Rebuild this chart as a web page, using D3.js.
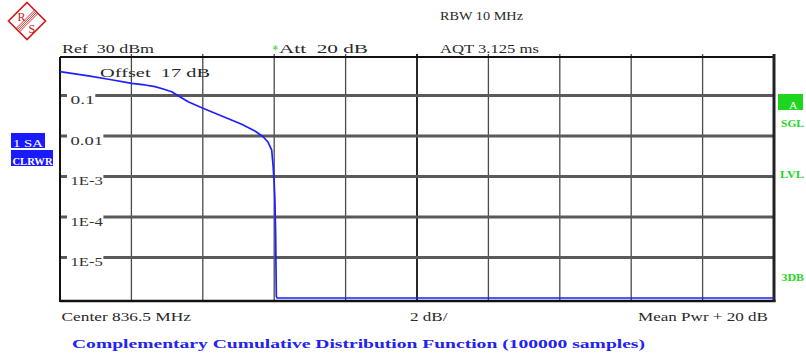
<!DOCTYPE html>
<html><head><meta charset="utf-8">
<script src="https://cdn.jsdelivr.net/npm/d3@7"></script>
<style>
body{margin:0;background:#fff}
svg{display:block}
text{font-family:"Liberation Serif","DejaVu Serif",serif;white-space:pre}
</style>
</head><body>
<script>
// ---- data ----
const levelDb = [0, 0.84, 1.4, 2.01, 2.38, 2.66, 2.89, 3.13, 3.31, 3.59, 3.97, 4.53, 5.09, 5.46, 5.69, 5.83, 5.93, 5.97, 6.00, 6.02, 6.04, 6.05, 6.06, 6.08, 20];
const ccdf    = [0.39, 0.30, 0.248, 0.200, 0.182, 0.165, 0.145, 0.124, 0.099, 0.0703, 0.050, 0.0312, 0.0195, 0.0133, 0.0096, 0.0070, 0.0045, 0.0018, 6.8e-4, 2.6e-4, 4.0e-5, 5.9e-6, 1.1e-6, 0, 0];
const yTickValues = [0.1, 0.01, 1e-3, 1e-4, 1e-5];
const yTickLabels = ["0.1", "0.01", "1E-3", "1E-4", "1E-5"];
const xDomain = [0, 20];          // dB above mean power
const xDivisions = 10;            // 2 dB/div
const yDomain = [1e-6, 1];

const W = 806, H = 353;
const svg = d3.select("body").append("svg").attr("width", W).attr("height", H);

const plot = {left: 60, right: 774, top: 57, bottom: 301};
const x = d3.scaleLinear().domain(xDomain).range([plot.left, plot.right]);
const y = d3.scaleLog().domain(yDomain).range([298, 55]);

function txt(g, xx, yy, s, w, o = {}) {
  const t = g.append("text").attr("x", xx).attr("y", yy).text(s)
    .attr("xml:space", "preserve")
    .attr("font-size", o.size || 12.5)
    .attr("fill", o.fill || "#2a2a2a");
  if (o.bold) t.attr("font-weight", "bold");
  if (w) t.attr("textLength", w).attr("lengthAdjust", "spacingAndGlyphs");
  if (o.anchor) t.attr("text-anchor", o.anchor);
  return t;
}

// ---- logo ----
const red = "#cc2020";
const logo = svg.append("g").attr("stroke", red).attr("fill", "none");
const cx = 27, cy = 21, r = 18.5;
logo.append("path").attr("stroke-width", 1.7)
  .attr("d", `M${cx},${cy - r}L${cx + r},${cy}L${cx},${cy + r}L${cx - r},${cy}Z`);
[-2.4, -0.8, 0.8, 2.4].forEach(o => {
  const d = o / Math.SQRT2;
  logo.append("line").attr("stroke-width", 0.9)
    .attr("x1", cx - r / 2 + d).attr("y1", cy + r / 2 + d)
    .attr("x2", cx + r / 2 + d).attr("y2", cy - r / 2 + d);
});
svg.append("text").attr("x", 17.5).attr("y", 20.5).text("R").attr("fill", red)
  .attr("font-size", 12).attr("font-family", "DejaVu Sans");
svg.append("text").attr("x", 28.5).attr("y", 32.5).text("S").attr("fill", red)
  .attr("font-size", 12).attr("font-family", "DejaVu Sans");

// ---- header texts ----
txt(svg, 440, 20, "RBW 10 MHz", 83);
txt(svg, 62, 53, "Ref  30 dBm", 92);
txt(svg, 272.5, 55, "*", 5.5, {fill: "#22cc22", size: 14});
txt(svg, 279, 53, "Att  20 dB", 89);
txt(svg, 440, 53, "AQT 3.125 ms", 99);

// ---- grid ----
const grid = svg.append("g");
d3.range(1, xDivisions).forEach(i => {
  const v = xDomain[0] + i * (xDomain[1] - xDomain[0]) / xDivisions;
  const center = i === xDivisions / 2;
  grid.append("line").attr("x1", x(v)).attr("x2", x(v))
    .attr("y1", plot.top - 3).attr("y2", plot.bottom)
    .attr("stroke", center ? "#111" : "#4a4a4a").attr("stroke-width", center ? 1.8 : 1.3);
});
yTickValues.forEach((v, i) => {
  const yy = y(v);
  const lab = yTickLabels[i];
  const w = lab.length * 8.1;
  grid.append("line").attr("x1", plot.left).attr("x2", 67).attr("y1", yy).attr("y2", yy)
    .attr("stroke", "#5a5a5a").attr("stroke-width", 3);
  grid.append("line").attr("x1", 70.5 + w + 0.5).attr("x2", plot.right).attr("y1", yy).attr("y2", yy)
    .attr("stroke", "#5a5a5a").attr("stroke-width", 3);
  txt(grid, 70.5, yy + 8.6, lab, w, {fill: "#333"});
});

// ---- frame ----
const fr = svg.append("g").attr("stroke", "#111");
fr.append("line").attr("x1", plot.left).attr("x2", plot.right).attr("y1", plot.top).attr("y2", plot.top).attr("stroke-width", 2);
fr.append("line").attr("x1", plot.left).attr("x2", plot.left).attr("y1", plot.top).attr("y2", plot.bottom + 1).attr("stroke-width", 2);
fr.append("line").attr("x1", plot.left).attr("x2", plot.right + 1.5).attr("y1", plot.bottom).attr("y2", plot.bottom).attr("stroke-width", 2.5);
fr.append("line").attr("x1", plot.right).attr("x2", plot.right).attr("y1", plot.top - 3).attr("y2", plot.bottom + 1).attr("stroke-width", 3).attr("stroke", "#222");

txt(svg, 100, 76.5, "Offset  17 dB", 110);

// ---- curve ----
const pts = levelDb.map((d, i) => [d, ccdf[i]]);
const line = d3.line()
  .x(d => x(d[0]))
  .y(d => y(Math.max(d[1], yDomain[0])));
svg.append("path").datum(pts).attr("d", line)
  .attr("fill", "none").attr("stroke", "#1f1fff").attr("stroke-width", 1.7)
  .attr("stroke-linejoin", "round");

// ---- side annotations ----
svg.append("rect").attr("x", 11).attr("y", 133).attr("width", 34).attr("height", 15).attr("fill", "#1a1aff");
txt(svg, 13, 146.5, "1 SA", 30, {fill: "#fff", size: 11});
svg.append("rect").attr("x", 11).attr("y", 150).attr("width", 42).attr("height", 16).attr("fill", "#1a1aff");
txt(svg, 12.5, 164.5, "CLRWR", 40, {fill: "#fff", size: 10, bold: true});

const green = "#1fd61f";
svg.append("rect").attr("x", 778).attr("y", 94).attr("width", 25).attr("height", 16).attr("fill", green);
txt(svg, 789, 109, "A", 8.5, {fill: "#fff", size: 11});
txt(svg, 781, 126.5, "SGL", 23, {fill: green, size: 9.5, bold: true});
txt(svg, 780, 177.5, "LVL", 24, {fill: green, size: 9.5, bold: true});
txt(svg, 781.5, 280.5, "3DB", 22.5, {fill: green, size: 9.5, bold: true});

// ---- bottom texts ----
txt(svg, 61.5, 321, "Center 836.5 MHz", 129.5);
txt(svg, 410, 321, "2 dB/", 37.5);
txt(svg, 638, 321, "Mean Pwr + 20 dB", 130);
txt(svg, 72, 348, "Complementary Cumulative Distribution Function (100000 samples)", 573,
    {fill: "#2323f0", size: 13.5, bold: true});
</script>
</body></html>
